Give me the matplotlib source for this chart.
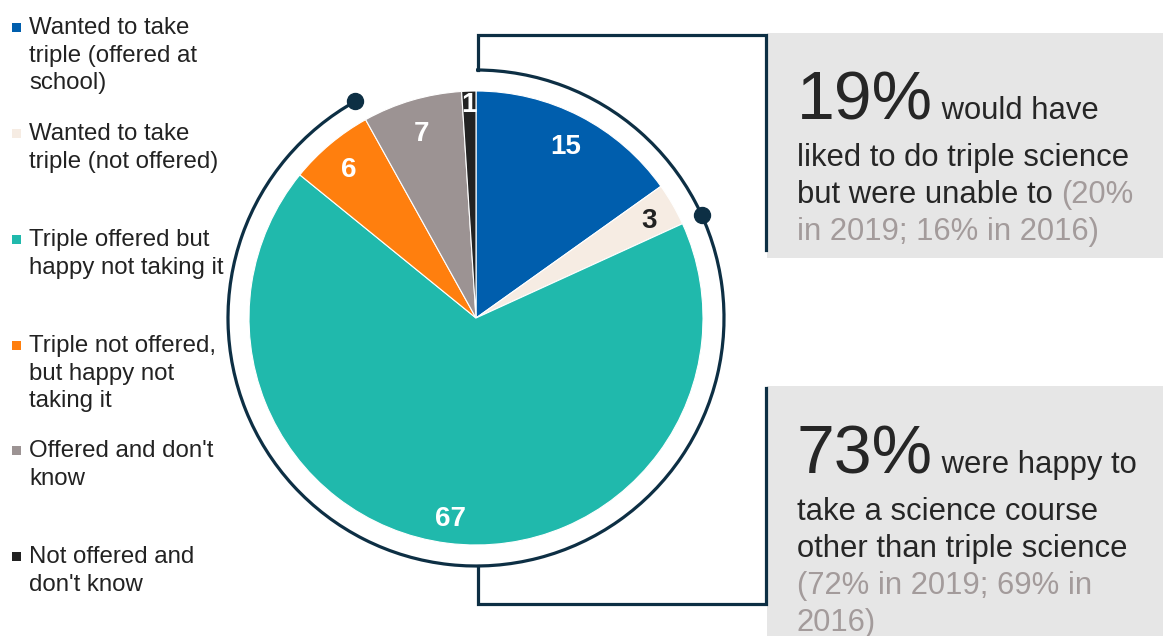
import matplotlib
matplotlib.use("Agg")
import matplotlib.pyplot as plt
from matplotlib.patches import Arc, Rectangle
import numpy as np

plt.rcParams['font.family'] = ['Liberation Sans', 'DejaVu Sans']

# ---- data ----
categories = [
    "Wanted to take\ntriple (offered at\nschool)",
    "Wanted to take\ntriple (not offered)",
    "Triple offered but\nhappy not taking it",
    "Triple not offered,\nbut happy not\ntaking it",
    "Offered and don't\nknow",
    "Not offered and\ndon't know",
]
values = [15, 3, 67, 6, 7, 1]
colors = ["#005EAD", "#F6ECE3", "#20B9AC", "#FF7F0E", "#9C9393", "#222222"]
label_colors = ["white", "#222222", "white", "white", "white", "white"]
label_radius = [0.86, 0.88, 0.88, 0.87, 0.86, 0.95]

W, H = 1163, 636
fig = plt.figure(figsize=(W / 100, H / 100), dpi=100)
ax = fig.add_axes([0, 0, 1, 1])

def Y(y):
    return H - y

cx, cy, R = 476, Y(318), 227
arc_r = 248
navy = "#0D2F44"
dark = "#262626"
grey_txt = "#A39B9B"

wedges, _ = ax.pie(values, colors=colors, startangle=90, counterclock=False,
                   center=(cx, cy), radius=R,
                   wedgeprops=dict(edgecolor="white", linewidth=0.8))
ax.set_xlim(0, W)
ax.set_ylim(0, H)
ax.set_aspect('auto')
ax.axis('off')

# slice labels
for w, v, lc, lr in zip(wedges, values, label_colors, label_radius):
    ang = np.deg2rad((w.theta1 + w.theta2) / 2)
    ax.text(cx + lr * R * np.cos(ang), cy + lr * R * np.sin(ang) - 3, str(v),
            ha='center', va='center', color=lc, fontsize=20, fontweight='bold')

# outer arc with dots
total = sum(values)
a_split = 90 - 360 * sum(values[:2]) / total
a_end = 90 - 360 * sum(values[:4]) / total
ax.add_patch(Arc((cx, cy), 2 * arc_r, 2 * arc_r, theta1=a_end + 360, theta2=90 + 360,
                 color=navy, lw=2.3))
for a in (a_split, a_end):
    ax.plot(cx + arc_r * np.cos(np.deg2rad(a)), cy + arc_r * np.sin(np.deg2rad(a)),
            'o', color=navy, markersize=11.5)

# grey boxes
ax.add_patch(Rectangle((767, Y(258)), W - 767, 258 - 33, facecolor="#E6E6E6",
                       edgecolor='none', zorder=0))
ax.add_patch(Rectangle((767, Y(636)), W - 767, 636 - 386, facecolor="#E6E6E6",
                       edgecolor='none', zorder=0))

# brackets
bx0, bx1 = 478, 766
ax.plot([bx0, bx0, bx1, bx1], [cy + arc_r, Y(35), Y(35), Y(250)], color=navy, lw=2.3,
        solid_joinstyle='miter')
ax.plot([bx0, bx0, bx1, bx1], [cy - arc_r, Y(604), Y(604), Y(388)], color=navy, lw=2.3,
        solid_joinstyle='miter')

# legend (manual)
leg_y = [26, 132, 238, 344, 449, 555]
for lab, col, ly in zip(categories, colors, leg_y):
    ax.add_patch(Rectangle((12, Y(ly) - 5.5), 9, 9, facecolor=col, edgecolor='none'))
    ax.text(29, Y(ly) + 9, lab, ha='left', va='top', fontsize=17.3, color="#222222",
            linespacing=1.33)

fig.canvas.draw()
renderer = fig.canvas.get_renderer()

def run(x, yb, parts):
    """parts: list of (text, size, color); placed successively on a baseline."""
    for txt, size, col in parts:
        t = ax.text(x, Y(yb), txt, ha='left', va='baseline', fontsize=size, color=col)
        bb = t.get_window_extent(renderer=renderer)
        x = x + bb.width
    return x

tx = 797
run(tx, 119, [("19%", 49, dark), (" would have", 22.3, dark)])
run(tx, 166, [("liked to do triple science", 22.3, dark)])
run(tx, 203, [("but were unable to ", 22.3, dark), ("(20%", 22.3, grey_txt)])
run(tx, 240, [("in 2019; 16% in 2016)", 22.3, grey_txt)])

run(tx, 473, [("73%", 49, dark), (" were happy to", 22.3, dark)])
run(tx, 520, [("take a science course", 22.3, dark)])
run(tx, 557, [("other than triple science", 22.3, dark)])
run(tx, 594, [("(72% in 2019; 69% in", 22.3, grey_txt)])
run(tx, 631, [("2016)", 22.3, grey_txt)])

fig.savefig("out.png", dpi=100)
